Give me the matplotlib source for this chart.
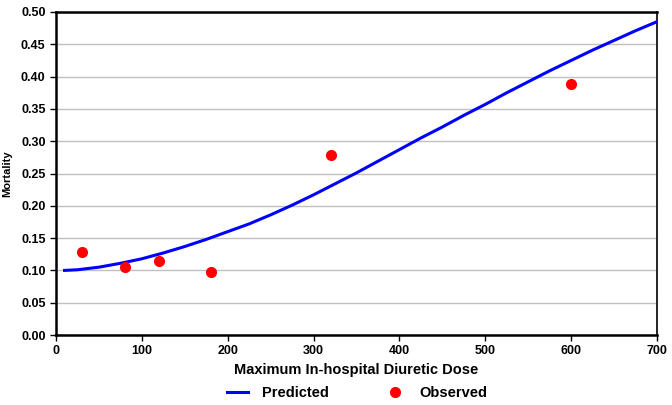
import matplotlib
matplotlib.use("Agg")
import matplotlib.pyplot as plt

plt.rcParams['font.family'] = ['Liberation Sans', 'DejaVu Sans']
plt.rcParams['font.weight'] = 'bold'

# Predicted curve
dose_pred = [10, 25, 50, 75, 100, 125, 150, 175, 200, 225, 250, 275, 300, 325, 350, 375, 400,
             425, 450, 475, 500, 525, 550, 575, 600, 625, 650, 675, 700]
mort_pred = [0.100, 0.101, 0.105, 0.111, 0.118, 0.127, 0.137, 0.148, 0.160, 0.172, 0.186, 0.201,
             0.217, 0.234, 0.251, 0.269, 0.287, 0.305, 0.322, 0.340, 0.357, 0.375, 0.392, 0.409,
             0.425, 0.441, 0.456, 0.471, 0.485]

# Observed points
dose_obs = [30, 80, 120, 180, 320, 600]
mort_obs = [0.129, 0.106, 0.115, 0.097, 0.278, 0.388]


def main():
    fig = plt.figure(figsize=(6.72, 4.05), dpi=100)
    ax = fig.add_axes([0.0833, 0.1728, 0.8944, 0.7976])

    ax.plot(dose_pred, mort_pred, color="#0000ff", linewidth=2.2, label="Predicted", zorder=3,
            solid_joinstyle="round")
    ax.plot(dose_obs, mort_obs, linestyle="none", marker="o", markersize=7,
            color="#ff0000", label="Observed", zorder=4)

    ax.set_xlim(0, 700)
    ax.set_ylim(0, 0.50)
    ax.set_xticks(range(0, 701, 100))
    ax.set_yticks([i * 0.05 for i in range(11)])
    ax.set_yticklabels(["%.2f" % (i * 0.05) for i in range(11)])
    ax.yaxis.grid(True, color="#c0c0c0", linewidth=1)
    ax.set_axisbelow(True)

    for s in ax.spines.values():
        s.set_color("black")
        s.set_linewidth(1.8)
    ax.spines['right'].set_linewidth(1.2)

    ax.tick_params(axis="both", labelsize=9, length=4, width=1, color="black")
    for lab in ax.get_xticklabels() + ax.get_yticklabels():
        lab.set_fontweight("bold")

    ax.set_xlabel("Maximum In-hospital Diuretic Dose", fontsize=10.5, fontweight="bold", labelpad=4)
    ax.set_ylabel("Mortality", fontsize=8, fontweight="bold", labelpad=6)

    leg = fig.legend(loc="center", bbox_to_anchor=(0.532, 0.03), ncol=2, frameon=False,
                     fontsize=10.5, columnspacing=3.8, handlelength=1.4, handletextpad=1.0,
                     numpoints=1, borderpad=0, borderaxespad=0)
    for t in leg.get_texts():
        t.set_fontweight("bold")

    fig.savefig("out.png", dpi=100)


if __name__ == "__main__":
    main()
